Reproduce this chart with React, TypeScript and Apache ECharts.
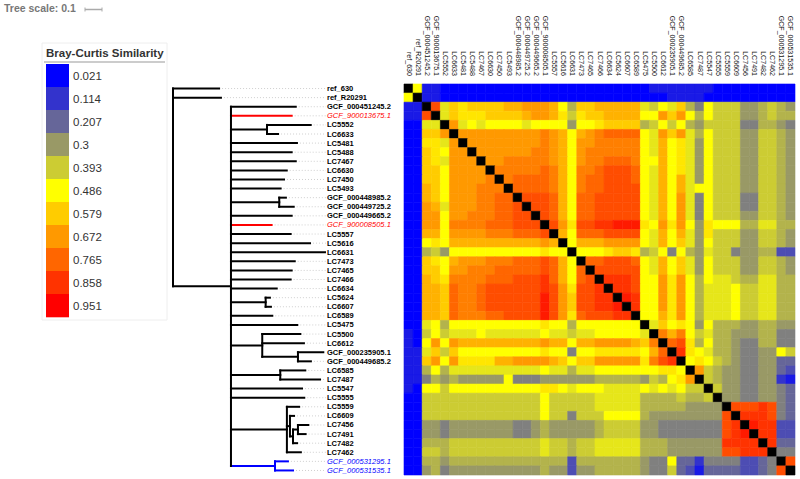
import React, { useEffect, useRef } from 'react';
import * as echarts from 'echarts';

const FONT = "'Liberation Sans', Arial, sans-serif";

// Leaves, top to bottom (= heatmap rows / columns)
const TAXA = [
  'ref_630', 'ref_R20291', 'GCF_000451245.2', 'GCF_900013675.1', 'LC5552', 'LC6633', 'LC5481',
  'LC5488', 'LC7467', 'LC6630', 'LC7450', 'LC5493', 'GCF_000448985.2', 'GCF_000449725.2',
  'GCF_000449665.2', 'GCF_900008505.1', 'LC5557', 'LC5616', 'LC6631', 'LC7473', 'LC7465',
  'LC7466', 'LC6634', 'LC5624', 'LC6607', 'LC6589', 'LC5475', 'LC5500', 'LC6612',
  'GCF_000235905.1', 'GCF_000449685.2', 'LC6585', 'LC7487', 'LC5547', 'LC5555', 'LC5559',
  'LC6609', 'LC7456', 'LC7491', 'LC7482', 'LC7462', 'GCF_000531295.1', 'GCF_000531535.1',
];

// Tree with branch lengths (Newick)
const NEWICK = `(ref_630:0.271,ref_R20291:0.282,(
GCF_000451245.2:0.381,GCF_900013675.1:0.357,(LC5552:0.257,LC6633:0.065):0.212,
LC5481:0.388,LC5488:0.357,LC7467:0.381,LC6630:0.328,LC7450:0.312,LC5493:0.292,
(GCF_000448985.2:0.039,GCF_000449725.2:0.085):0.284,GCF_000449665.2:0.357,
GCF_900008505.1:0.239,LC5557:0.351,LC5616:0.465,LC6631:0.553,LC7473:0.375,
LC7465:0.357,LC7466:0.351,LC6634:0.269,(LC5624:0.025,LC6607:0.031):0.204,
LC6589:0.243,LC5475:0.390,
(LC5500:0.224,LC6612:0.245,(GCF_000235905.1:0.149,GCF_000449685.2:0.076):0.210):0.184,
(LC6585:0.147,LC7487:0.234):0.290,LC5547:0.418,LC5555:0.431,
(LC5559:0.072,(LC6609:0.024,((LC7456:0.061,LC7491:0.045):0.029,LC7482:0.024):0.018):0.018,LC7462:0.082):0.329,
(GCF_000531295.1:0.076,GCF_000531535.1:0.106):0.259
):0.341);`;

const RED_TAXA = ['GCF_900013675.1', 'GCF_900008505.1'];
const BLUE_TAXA = ['GCF_000531295.1', 'GCF_000531535.1'];

// Colour key
const LEGEND_LABELS = ['0.021', '0.114', '0.207', '0.3', '0.393', '0.486', '0.579', '0.672', '0.765', '0.858', '0.951'];
const LEGEND_COLORS = ['#0000ff', '#3333cc', '#666699', '#999966', '#cccc33', '#ffff00', '#ffcc00', '#ff9900', '#ff6600', '#ff3300', '#ff0000'];
const SIM_MIN = 0.021;
const SIM_MAX = 0.951;

// Similarity levels: code index 0..20 spans SIM_MIN..SIM_MAX.
// Upper triangle only (row i, columns j > i); '.' = not used.
const LEVEL_CODES = '0123456789ABCDEFGHIJK';
const SIM_ROWS = [
  '.A11000000 0000000000 0000000111 1111000000 000',
  '..11000000 0000000000 0000000001 1110000000 000',
  '...H9CBCCC CDDEEEDA7C CDDDDD98A9 C75A888667 876',
  '....9CBBBC CCCDEEDB8B CCDDDDAAEC EA7A888667 877',
  '.....E9A9A AAA9AAAA6A ABCCCC78A8 A768888557 765',
  '......EEEE EEEEEFEDAD EFGGGGA9EC E97A888668 876',
  '.......EEE EEEEEFEDAE EFFFFFA9DA B96A888668 876',
  '........EE EEEEFFEDAE FFFFFFA9DA B96A888668 876',
  '.........E EFFFFFEDAE FFGGGFAADA B96A888668 876',
  '.......... FFFFFGFDAF FGHHHGA9DA B96A888668 876',
  '.......... .FGGGGFDAF GGHHHGA9DA D96A888668 876',
  '.......... ..GGGGFDAF GGHHHHA9DA D9AA888668 876',
  '.......... ...HHHGDAG GHHHHHA9DA E95A888558 876',
  '.......... ....HHGDAG GHHHHHA9DA E95A888558 876',
  '.......... .....HGDAG GHHHHHA9DA E95A888668 876',
  '.......... ......HEBH HIIJJJBAEB EA6BAAA779 977',
  '.......... .......DAG GGHHHHA9DA D96B888668 876',
  '.......... ........AD DDEEEEA9DA C96A888668 876',
  '.......... .........A AABCCB78A5 A769885667 733',
  '.......... .......... GGHHHGA9DA C96A888668 876',
  '.......... .......... .HHHHHA9DA C96A888668 876',
  '.......... .......... ..IIIHAAEB EA7A998779 977',
  '.......... .......... ...IIHAAEB EA7999A889 977',
  '.......... .......... ....JIAAEB EA7999A889 977',
  '.......... .......... .....IAAEB EA7999A889 977',
  '.......... .......... ......AADB EA7999A889 977',
  '.......... .......... .......9CA BA6A777667 766',
  '.......... .......... ........FD FA89776667 755',
  '.......... .......... .........G HB7A776557 755',
  '.......... .......... .......... IBA9776556 6A8',
  '.......... .......... .......... .ABA876556 644',
  '.......... .......... .......... ..E8766556 643',
  '.......... .......... .......... ...8766556 621',
  '.......... .......... .......... ....866556 654',
  '.......... .......... .......... .....66556 654',
  '.......... .......... .......... ......HHHI H54',
  '.......... .......... .......... .......III H54',
  '.......... .......... .......... ........JI I33',
  '.......... .......... .......... .........I I33',
  '.......... .......... .......... .......... I44',
  '.......... .......... .......... .......... .55',
  '.......... .......... .......... .......... ..H',
  '.......... .......... .......... .......... ...',
];

type TNode = { name: string; len: number; children: TNode[] };

function parseNewick(str: string): TNode {
  const s = str.replace(/\s+/g, '');
  let i = 0;
  function node(): TNode {
    const n: TNode = { name: '', len: 0, children: [] };
    if (s[i] === '(') {
      i++;
      n.children.push(node());
      while (s[i] === ',') {
        i++;
        n.children.push(node());
      }
      i++;
    }
    let name = '';
    while (i < s.length && !':,);'.includes(s[i])) name += s[i++];
    n.name = name;
    if (s[i] === ':') {
      i++;
      let num = '';
      while (i < s.length && !',);'.includes(s[i])) num += s[i++];
      n.len = parseFloat(num);
    }
    return n;
  }
  return node();
}

function leavesOf(n: TNode): string[] {
  if (!n.children.length) return [n.name];
  return n.children.flatMap(leavesOf);
}

const TREE_MAX = 0.9;

function layoutTree(root: TNode) {
  const branches: number[][] = [];
  const leaders: number[][] = [];
  function colorOf(n: TNode) {
    const lv = leavesOf(n);
    if (lv.every((l) => BLUE_TAXA.includes(l))) return 2;
    if (lv.every((l) => RED_TAXA.includes(l))) return 1;
    return 0;
  }
  function walk(n: TNode, parentX: number, isRoot: boolean): number {
    const x = isRoot ? 0 : parentX + n.len;
    const col = colorOf(n);
    let y: number;
    if (!n.children.length) {
      y = TAXA.indexOf(n.name);
      leaders.push([x, y, TREE_MAX, y, 3]);
    } else {
      const ys = n.children.map((c) => walk(c, x, false));
      const y0 = ys[0];
      const y1 = ys[ys.length - 1];
      branches.push([x, y0, x, y1, col]);
      y = (y0 + y1) / 2;
    }
    if (!isRoot) branches.push([parentX, y, x, y, col]);
    return y;
  }
  walk(root, 0, true);
  return [...leaders, ...branches];
}

function buildOption() {
  const rows = SIM_ROWS.map((r) => r.replace(/\s+/g, ''));
  const level = (ch: string) =>
    SIM_MIN + (LEVEL_CODES.indexOf(ch) * (SIM_MAX - SIM_MIN)) / (LEVEL_CODES.length - 1);
  const heat: number[][] = [];
  for (let i = 0; i < TAXA.length; i++) {
    for (let j = 0; j < TAXA.length; j++) {
      if (i === j) heat.push([j, i, SIM_MAX, 1]);
      else {
        const a = Math.min(i, j);
        const b = Math.max(i, j);
        heat.push([j, i, level(rows[a][b]), 0]);
      }
    }
  }
  const segs = layoutTree(parseNewick(NEWICK));
  const treeColors = ['#000000', '#ff0000', '#0000ff', '#cfcfcf'];

  const labelData = TAXA.map((t) => {
    if (RED_TAXA.includes(t))
      return { value: t, textStyle: { color: '#ff0000', fontStyle: 'italic', fontWeight: 'normal' } };
    if (BLUE_TAXA.includes(t))
      return { value: t, textStyle: { color: '#0000ff', fontStyle: 'italic', fontWeight: 'normal' } };
    return { value: t };
  });

  const legendTop = 64;
  const blockH = 23;
  const graphics: any[] = [
    { type: 'rect', shape: { x: 42, y: 43, width: 125, height: 277 }, style: { fill: 'none', stroke: '#eeeeee', lineWidth: 1 }, silent: true },
    { type: 'text', x: 46, y: 53, style: { text: 'Bray-Curtis Similarity', fill: '#333', fontSize: 11.5, fontWeight: 'bold', fontFamily: FONT, textVerticalAlign: 'middle' } },
    { type: 'line', shape: { x1: 44, y1: 62, x2: 165, y2: 62 }, style: { stroke: '#999', lineWidth: 1 } },
    { type: 'text', x: 4, y: 8, style: { text: 'Tree scale: 0.1', fill: '#777', fontSize: 10.5, fontWeight: 'bold', fontFamily: FONT, textVerticalAlign: 'middle' } },
    { type: 'line', shape: { x1: 85, y1: 9.5, x2: 102, y2: 9.5 }, style: { stroke: '#aaa', lineWidth: 1.5 } },
    { type: 'line', shape: { x1: 85, y1: 7.5, x2: 85, y2: 11.5 }, style: { stroke: '#aaa', lineWidth: 1 } },
    { type: 'line', shape: { x1: 102, y1: 7.5, x2: 102, y2: 11.5 }, style: { stroke: '#aaa', lineWidth: 1 } },
  ];
  LEGEND_COLORS.forEach((c, k) => {
    graphics.push({ type: 'rect', shape: { x: 46, y: legendTop + k * blockH, width: 23, height: blockH + 0.3 }, style: { fill: c } });
    graphics.push({
      type: 'text', x: 73, y: legendTop + k * blockH + blockH / 2 + 0.5,
      style: { text: LEGEND_LABELS[k], fill: '#333', fontSize: 11.5, fontFamily: FONT, textVerticalAlign: 'middle' },
    });
  });

  return {
    animation: false,
    backgroundColor: '#ffffff',
    textStyle: { fontFamily: FONT },
    grid: [
      { left: 404, top: 84, width: 391, height: 391 },
      { left: 173, top: 84, width: 153, height: 391 },
    ],
    xAxis: [
      {
        type: 'category', gridIndex: 0, data: TAXA, position: 'top',
        axisLine: { show: false }, axisTick: { show: false }, splitLine: { show: false },
        axisLabel: { rotate: 90, fontSize: 7.1, margin: 8, interval: 0, color: '#111', fontFamily: FONT },
      },
      { type: 'value', gridIndex: 1, min: 0, max: TREE_MAX, show: false },
    ],
    yAxis: [
      { type: 'category', gridIndex: 0, data: TAXA, inverse: true, show: false },
      { type: 'value', gridIndex: 1, min: -0.5, max: TAXA.length - 0.5, inverse: true, show: false },
      {
        type: 'category', gridIndex: 1, data: labelData, inverse: true, position: 'right',
        axisLine: { show: false }, axisTick: { show: false }, splitLine: { show: false },
        axisLabel: { margin: 1, interval: 0, fontSize: 7.5, fontWeight: 'bold', color: '#000', fontFamily: FONT },
      },
    ],
    visualMap: [
      {
        type: 'continuous', show: false, seriesIndex: 0, dimension: 2,
        min: SIM_MIN, max: SIM_MAX, inRange: { color: LEGEND_COLORS },
      },
    ],
    series: [
      {
        type: 'custom', xAxisIndex: 0, yAxisIndex: 0, data: heat,
        encode: { x: 0, y: 1 },
        renderItem: (params: any, api: any) => {
          const c = api.coord([api.value(0), api.value(1)]);
          const s = api.size([1, 1]);
          const fill = api.value(3) === 1 ? '#000000' : api.visual('color');
          return {
            type: 'rect',
            shape: { x: c[0] - s[0] / 2, y: c[1] - s[1] / 2, width: s[0], height: s[1] },
            style: { fill, stroke: fill, lineWidth: 0.6 },
          };
        },
      },
      {
        type: 'custom', xAxisIndex: 1, yAxisIndex: 1, data: segs, clip: false,
        encode: { x: [0, 2], y: [1, 3] },
        renderItem: (params: any, api: any) => {
          const p1 = api.coord([api.value(0), api.value(1)]);
          const p2 = api.coord([api.value(2), api.value(3)]);
          const kind = api.value(4);
          const dotted = kind === 3;
          return {
            type: 'line',
            shape: { x1: p1[0], y1: p1[1], x2: p2[0], y2: p2[1] },
            style: {
              stroke: treeColors[kind],
              lineWidth: dotted ? 1 : 2,
              lineDash: dotted ? [1, 2] : null,
              lineCap: dotted ? 'butt' : 'square',
            },
          };
        },
      },
    ],
    graphic: graphics,
  };
}

export default function App() {
  const ref = useRef<HTMLDivElement>(null);
  useEffect(() => {
    const chart = echarts.init(ref.current as HTMLDivElement, null, { renderer: 'svg' });
    chart.setOption(buildOption() as any);
    return () => chart.dispose();
  }, []);
  return (
    <div
      ref={ref}
      style={{ position: 'fixed', left: 0, top: 0, width: 800, height: 479, background: '#fff' }}
    />
  );
}
